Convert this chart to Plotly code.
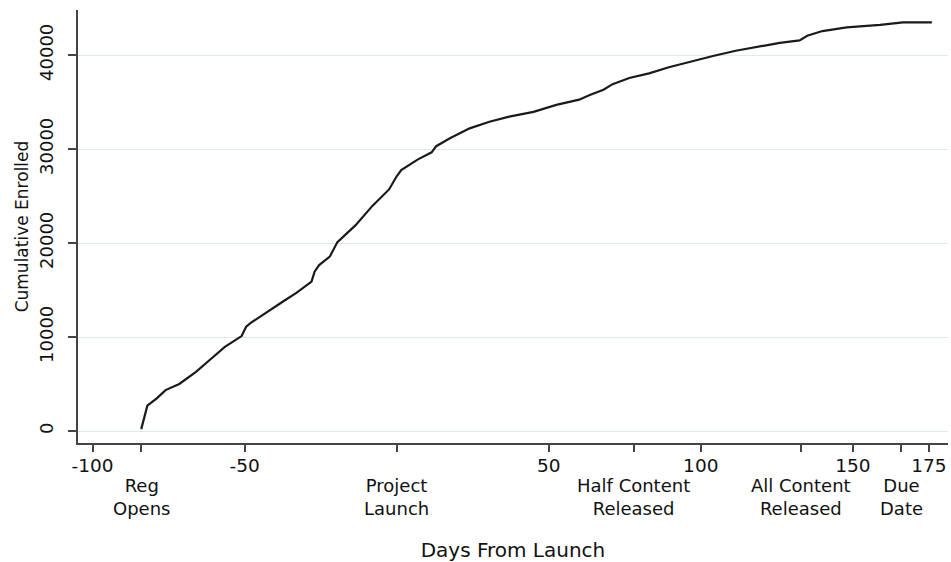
import plotly.graph_objects as go

# Data
days = [-84, -82, -79, -76, -71.5, -66, -61.5, -56.5, -51, -49.5, -48, -43, -37.5, -33,
        -28, -27, -25.5, -22, -19.5, -13.5, -8, -2.5, 0, 1.5, 4.5, 7, 11.5, 13, 17.5,
        24, 30.5, 37, 45, 52.5, 60, 63.5, 68, 71, 76.5, 83, 89.5, 95.5, 104, 111.5,
        119.5, 126, 132.5, 135, 140, 148, 159, 166.5, 176]
enrolled = [200, 2700, 3450, 4350, 5000, 6300, 7550, 8950, 10100, 11100, 11500, 12600,
            13750, 14700, 15900, 16950, 17650, 18550, 20100, 21900, 23950, 25700, 27100,
            27750, 28400, 28900, 29650, 30300, 31150, 32200, 32900, 33450, 33950, 34700,
            35250, 35750, 36300, 36900, 37550, 38050, 38700, 39200, 39900, 40450, 40950,
            41300, 41550, 42050, 42550, 42950, 43200, 43480, 43480]

num_ticks = [-100, -50, 50, 100, 150, 175]
event_days = [-84, 0, 78, 133, 166]
event_labels = ["Reg<br>Opens", "Project<br>Launch", "Half Content<br>Released",
                "All Content<br>Released", "Due<br>Date"]
y_ticks = [0, 10000, 20000, 30000, 40000]

FONT = "DejaVu Sans"
TXT = "#111111"
AX = "#444444"

fig = go.Figure()
fig.add_trace(go.Scatter(x=days, y=enrolled, mode="lines",
                         line=dict(color="#1a1a1a", width=2.2), showlegend=False,
                         hoverinfo="x+y"))

tickvals = sorted(num_ticks + event_days)
ticktext = [str(v) if v in num_ticks else "" for v in tickvals]

fig.update_layout(
    width=951, height=562,
    margin=dict(l=78, r=3, t=10, b=119, pad=0),
    paper_bgcolor="white", plot_bgcolor="white",
    font=dict(family=FONT, color=TXT),
    xaxis=dict(
        range=[-104.8, 181.3], tickmode="array", tickvals=tickvals, ticktext=ticktext,
        ticks="outside", ticklen=7, tickwidth=1.5, tickcolor=AX,
        showline=True, linecolor=AX, linewidth=1.5, showgrid=False, zeroline=False,
        tickfont=dict(family=FONT, size=18.5, color=TXT),
        ticklabelstandoff=-2,
        title=dict(text="Days From Launch", font=dict(family=FONT, size=20, color=TXT),
                   standoff=68),
        automargin=False,
    ),
    yaxis=dict(
        range=[-1277, 44790], tickmode="array", tickvals=y_ticks,
        ticktext=[str(v) for v in y_ticks], tickangle=-90,
        ticks="outside", ticklen=8, tickwidth=1.5, tickcolor=AX,
        showline=True, linecolor=AX, linewidth=1.5,
        showgrid=True, gridcolor="#dde9ec", gridwidth=1.3, zeroline=False,
        tickfont=dict(family=FONT, size=18, color=TXT),
        ticklabelstandoff=8,
        title=dict(text="Cumulative Enrolled", font=dict(family=FONT, size=17, color=TXT),
                   standoff=3),
        automargin=False,
    ),
)

for d, lab in zip(event_days, event_labels):
    fig.add_annotation(x=d, xref="x", y=0, yref="paper", text=lab, showarrow=False,
                       yanchor="middle", xanchor="center", yshift=-54,
                       font=dict(family=FONT, size=18, color=TXT))

fig.write_html("out.html", config={"displayModeBar": False},
               post_script="document.body.style.margin='0';document.body.style.overflow='hidden';")
